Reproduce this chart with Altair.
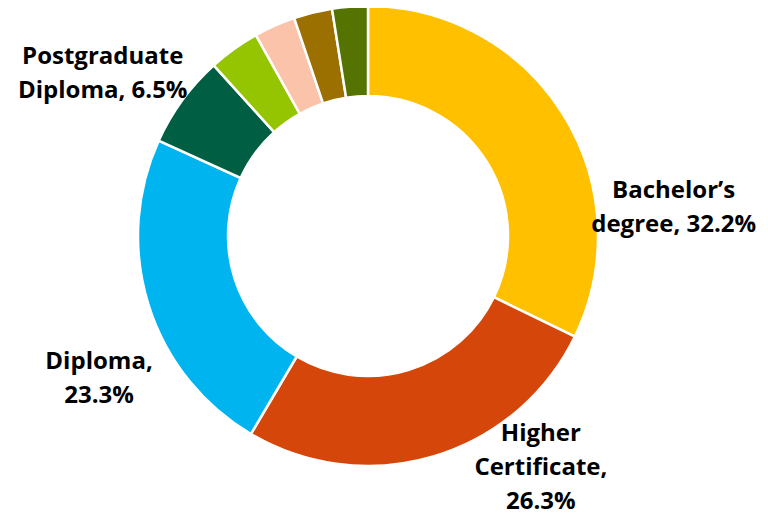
import math
import altair as alt
import pandas as pd

# Segment data (clockwise from 12 o'clock)
categories = ["Bachelor's degree", "Higher Certificate", "Diploma", "Postgraduate Diploma",
              "Other 1", "Other 2", "Other 3", "Other 4"]
values = [32.2, 26.3, 23.3, 6.5, 3.6, 2.9, 2.7, 2.5]
colors = ["#FFC000", "#D5460A", "#00B4F0", "#005F43", "#95C500", "#FAC3AA", "#9B7000", "#557300"]

# Labels shown on the chart (anchor = polar position of first line)
label_text = [["Bachelor\u2019s", "degree, 32.2%"],
              ["Higher", "Certificate,", "26.3%"],
              ["Diploma,", "23.3%"],
              ["Postgraduate", "Diploma, 6.5%"]]
label_angle = [81.6, 138.9, 244.9, 304.0]
label_radius = [309, 263, 297, 320]

seg = pd.DataFrame({"category": categories, "value": values, "order": list(range(len(values)))})
lab = pd.DataFrame({"label": label_text, "angle": label_angle, "r": label_radius})

arcs = alt.Chart(seg).mark_arc(outerRadius=230, innerRadius=140, stroke="white", strokeWidth=2.5).encode(
    theta=alt.Theta("value:Q", stack=True),
    color=alt.Color("category:N", scale=alt.Scale(domain=categories, range=colors), legend=None),
    order=alt.Order("order:Q"),
)

texts = alt.Chart(lab).mark_text(font="Open Sans", fontWeight="bold", fontSize=24, lineHeight=34,
                                 align="center", baseline="middle", color="black").encode(
    theta=alt.Theta("angle:Q", scale=alt.Scale(domain=[0, 360], range=[0, 2 * math.pi])),
    radius=alt.Radius("r:Q", scale=None),
    text="label",
)

chart = alt.layer(arcs, texts).resolve_scale(theta="independent").properties(
    width=720, height=456,
    autosize=alt.AutoSizeParams(type="none"),
    padding={"left": 0, "top": 0, "right": 32, "bottom": 51},
).configure_view(stroke=None)

chart.save("out.html", embed_options={"renderer": "svg", "actions": False})
